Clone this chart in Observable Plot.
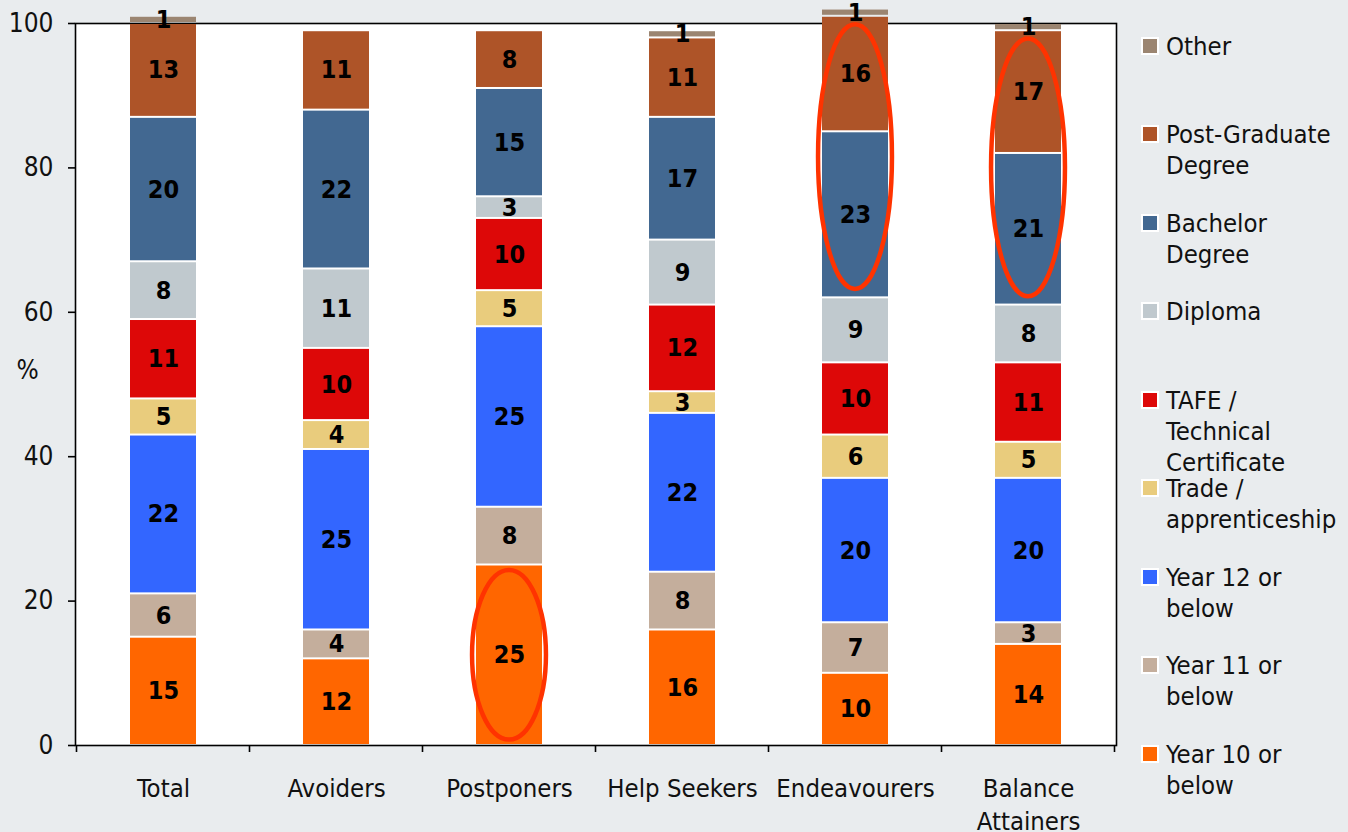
<!DOCTYPE html>
<html>
<head>
<meta charset="utf-8">
<script src="https://cdn.jsdelivr.net/npm/d3@7"></script>
<script src="https://cdn.jsdelivr.net/npm/@observablehq/plot@0.6"></script>
<style>
  html, body { margin: 0; padding: 0; background: #e9ecee; }
  #wrap { position: relative; width: 1348px; height: 832px; overflow: hidden; font-family: "DejaVu Sans Condensed", "Liberation Sans", sans-serif; }
  #chart { position: absolute; left: 0; top: 0; }
  #legend { position: absolute; left: 1141px; top: 0; width: 207px; height: 832px; }
  .item { position: absolute; left: 0; display: flex; align-items: flex-start; }
  .sw { width: 14px; height: 14px; border: 2.5px solid #fff; margin-top: 6px; flex: none; }
  .lab { margin-left: 7px; font-size: 25.5px; line-height: 31px; color: #111; white-space: nowrap; }
</style>
</head>
<body>
<div id="wrap">
  <div id="chart"></div>
  <div id="legend"></div>
</div>
<script>
// Respondent segments along the x axis
const groups = ["Total", "Avoiders", "Postponers", "Help Seekers", "Endeavourers", "Balance Attainers"];

// Education levels, bottom of the stack first
const levels = [
  "Year 10 or below",
  "Year 11 or below",
  "Year 12 or below",
  "Trade / apprenticeship",
  "TAFE / Technical Certificate",
  "Diploma",
  "Bachelor Degree",
  "Post-Graduate Degree",
  "Other"
];
const levelColors = ["#ff6600", "#c4ae9c", "#3366ff", "#e9cc7d", "#dd0808", "#c0c9ce", "#426891", "#ae5428", "#9b8571"];

// Percentages per segment (same order as groups)
const year10   = [15, 12, 25, 16, 10, 14];
const year11   = [6, 4, 8, 8, 7, 3];
const year12   = [22, 25, 25, 22, 20, 20];
const trade    = [5, 4, 5, 3, 6, 5];
const tafe     = [11, 10, 10, 12, 10, 11];
const diploma  = [8, 11, 3, 9, 9, 8];
const bachelor = [20, 22, 15, 17, 23, 21];
const postGrad = [13, 11, 8, 11, 16, 17];
const other    = [1, null, null, 1, 1, 1];

const yTicks = [0, 20, 40, 60, 80, 100];

// Segments circled for emphasis: group and the span of levels covered
const highlights = [
  {group: "Postponers", from: "Year 10 or below", to: "Year 10 or below"},
  {group: "Endeavourers", from: "Bachelor Degree", to: "Post-Graduate Degree"},
  {group: "Balance Attainers", from: "Bachelor Degree", to: "Post-Graduate Degree"}
];

const seriesValues = [year10, year11, year12, trade, tafe, diploma, bachelor, postGrad, other];
const rows = [];
levels.forEach((level, li) => {
  groups.forEach((g, gi) => {
    const v = seriesValues[li][gi];
    if (v != null) rows.push({group: g, level, value: v});
  });
});

const stackOpts = {x: "group", y: "value", z: "level", order: levels};
const font = "'DejaVu Sans Condensed', 'Liberation Sans', sans-serif";

const chart = Plot.plot({
  width: 1130,
  height: 832,
  marginLeft: 75,
  marginRight: 14,
  marginTop: 23,
  marginBottom: 87,
  style: {background: "transparent", fontFamily: font, color: "#000", overflow: "visible"},
  x: {domain: groups, paddingInner: 0.62, paddingOuter: 0.31, axis: null},
  y: {domain: [0, 100], axis: null},
  color: {domain: levels, range: levelColors},
  marks: [
    Plot.frame({fill: "#fff", stroke: "#000", strokeWidth: 1.6}),
    Plot.axisY({ticks: yTicks, tickSize: 7, tickPadding: 15, fontSize: 26, label: null, strokeWidth: 1.6, fill: "#111"}),
    Plot.barY(rows, Plot.stackY({...stackOpts, fill: "level", insetTop: 1, insetBottom: 1})),
    Plot.text(rows, Plot.stackY({...stackOpts, text: d => String(d.value), fontSize: 25, fontWeight: "bold", fill: "#000"})),
    Plot.text(groups, {
      x: d => d,
      text: d => d.replace(" Attainers", "\nAttainers"),
      frameAnchor: "bottom",
      lineAnchor: "top",
      dy: 27,
      fontSize: 25.5,
      lineHeight: 1.33,
      fill: "#111"
    }),
    Plot.text(["%"], {frameAnchor: "left", textAnchor: "middle", dx: -48, dy: -14, fontSize: 26, fill: "#111"})
  ]
});

document.getElementById("chart").appendChild(chart);

// Boundary ticks between categories and the circled highlights
const xs = chart.scale("x");
const ys = chart.scale("y");
const svg = d3.select(chart);
const bottom = ys.apply(0);
const boundaries = groups.map(g => xs.apply(g) - (xs.step - xs.bandwidth) / 2);
boundaries.push(xs.apply(groups[groups.length - 1]) + xs.bandwidth + (xs.step - xs.bandwidth) / 2);
svg.append("g")
  .attr("stroke", "#000")
  .attr("stroke-width", 1.6)
  .selectAll("line")
  .data(boundaries)
  .join("line")
  .attr("x1", d => d).attr("x2", d => d)
  .attr("y1", bottom).attr("y2", bottom + 7);

function spanOf(group, from, to) {
  const gi = groups.indexOf(group);
  let base = 0, lo = null, hi = null;
  levels.forEach((level, li) => {
    const v = seriesValues[li][gi] ?? 0;
    if (level === from) lo = base;
    base += v;
    if (level === to) hi = base;
  });
  return [lo, hi];
}

svg.append("g")
  .attr("fill", "none")
  .attr("stroke", "#ff3300")
  .attr("stroke-width", 4.5)
  .selectAll("ellipse")
  .data(highlights)
  .join("ellipse")
  .each(function (h) {
    const [lo, hi] = spanOf(h.group, h.from, h.to);
    const y1 = ys.apply(hi), y2 = ys.apply(lo);
    d3.select(this)
      .attr("cx", xs.apply(h.group) + xs.bandwidth / 2)
      .attr("cy", (y1 + y2) / 2)
      .attr("rx", xs.bandwidth * 0.56)
      .attr("ry", (y2 - y1) / 2 * 0.94);
  });

// Legend, top of the stack first
const legend = d3.select("#legend");
const legendLabels = {
  "Post-Graduate Degree": "Post-Graduate<br>Degree",
  "Bachelor Degree": "Bachelor<br>Degree",
  "TAFE / Technical Certificate": "TAFE /<br>Technical<br>Certificate",
  "Trade / apprenticeship": "Trade /<br>apprenticeship",
  "Year 12 or below": "Year 12 or<br>below",
  "Year 11 or below": "Year 11 or<br>below",
  "Year 10 or below": "Year 10 or<br>below"
};
levels.slice().reverse().forEach((level, i) => {
  const item = legend.append("div").attr("class", "item").style("top", (46 + i * 88.5 - 15.5) + "px");
  item.append("div").attr("class", "sw").style("background", levelColors[levels.indexOf(level)]);
  item.append("div").attr("class", "lab").html(legendLabels[level] || level);
});
</script>
</body>
</html>
